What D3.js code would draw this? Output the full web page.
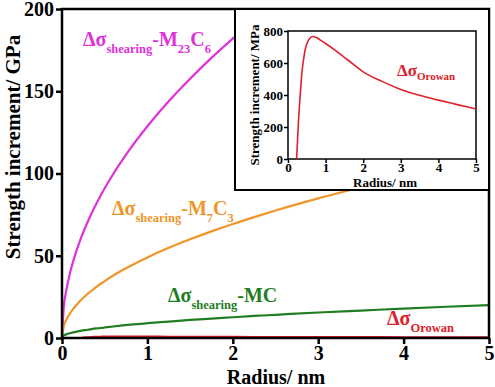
<!DOCTYPE html>
<html>
<head>
<meta charset="utf-8">
<script src="https://cdn.jsdelivr.net/npm/d3@7"></script>
<style>
  body { margin: 0; background: #fff; }
  svg { display: block; }
</style>
</head>
<body>
<svg></svg>
<script>
// radius (nm) shared by the shearing curves
let radius = [0, 0.02, 0.05, 0.1, 0.2, 0.3, 0.4, 0.5, 0.6, 0.8, 1.0, 1.25, 1.5, 1.75, 2.0, 2.25, 2.5, 3.0, 3.5, 4.0, 4.5, 5.0]
// GPa, null where the curve is out of view / behind inset
let shearM23C6 = [0, 18.2, 28.8, 40.7, 57.6, 70.5, 81.4, 91.0, 99.7, 115.1, 128.7, 143.9, 157.6, 170.3, 182.0, 193.1, 203.5, null, null, null, null, null]
let shearM7C3 = [0, 6.9, 11.0, 15.5, 21.9, 26.8, 31.0, 34.6, 38.0, 43.8, 49.0, 54.8, 60.0, 64.8, 69.3, 73.5, 77.5, 84.9, 91.7, null, null, null]
let shearMC = [0, 1.5, 2.2, 3.0, 4.2, 5.0, 5.8, 6.4, 7.0, 8.1, 9.0, 10.0, 11.0, 11.8, 12.6, 13.4, 14.1, 15.5, 16.7, 17.9, 19.0, 20.0]

// Orowan curve, MPa
let orowanR = [0.23, 0.25, 0.28, 0.31, 0.34, 0.37, 0.41, 0.45, 0.5, 0.58, 0.66, 0.75, 0.85, 1.0, 1.25, 1.5, 1.75, 2.0, 2.5, 3.0, 3.5, 4.0, 4.5, 5.0]
let orowanMPa = [0, 100, 242, 350, 449, 540, 615, 675, 719, 755, 766, 760, 745, 722, 680, 635, 590, 545, 485, 435, 398, 368, 340, 312]

let xTicks = [0, 1, 2, 3, 4, 5]
let yTicks = [0, 50, 100, 150, 200]
let insetYTicks = [0, 200, 400, 600, 800]

let width = 495
let height = 387
let serif = '"Liberation Serif", "Times New Roman", Times, "DejaVu Serif", serif'

let magenta = '#e030dc'
let orange = '#f0952a'
let green = '#1f7d22'
let red = '#e0202a'

let svg = d3.select('svg').attr('width', width).attr('height', height)

let xScale = d3.scaleLinear().domain([0, 5]).range([62, 489])
let yScale = d3.scaleLinear().domain([0, 200]).range([338, 9])

svg.append('clipPath').attr('id', 'clip')
  .append('rect').attr('x', 62).attr('y', 9).attr('width', 427).attr('height', 329)

let plot = svg.append('g').attr('clip-path', 'url(#clip)')

let drawLine = (g, xs, ys, sx, sy, color, w) => {
  let pts = xs.map((x, i) => [x, ys[i]])
  let line = d3.line()
    .defined(d => d[1] !== null)
    .x(d => sx(d[0]))
    .y(d => sy(d[1]))
    .curve(d3.curveMonotoneX)
  g.append('path')
    .datum(pts)
    .attr('d', line)
    .attr('fill', 'none')
    .attr('stroke', color)
    .attr('stroke-width', w)
}

drawLine(plot, radius, shearM23C6, xScale, yScale, magenta, 2.2)
drawLine(plot, radius, shearM7C3, xScale, yScale, orange, 2.2)
drawLine(plot, radius, shearMC, xScale, yScale, green, 2.2)

// main axes
let xAxis = d3.axisBottom(xScale).tickValues(xTicks).tickFormat(d3.format('d')).tickSize(6).tickSizeOuter(0).tickPadding(2)
let yAxis = d3.axisLeft(yScale).tickValues(yTicks).tickFormat(d3.format('d')).tickSize(6).tickSizeOuter(0).tickPadding(2)

let gx = svg.append('g').attr('transform', 'translate(0,338)').call(xAxis)
let gy = svg.append('g').attr('transform', 'translate(62,0)').call(yAxis)
for (let g of [gx, gy]) {
  g.attr('font-family', null).attr('font-size', null)
  g.select('.domain').remove()
  g.selectAll('line').attr('stroke', '#000').attr('stroke-width', 2.5)
  g.selectAll('text').attr('fill', '#000').style('font-size', '20px')
}

// frame
svg.append('rect').attr('x', 62).attr('y', 9).attr('width', 427).attr('height', 329)
  .attr('fill', 'none').attr('stroke', '#000').attr('stroke-width', 2.5)
// red line sits over the bottom axis
drawLine(plot, orowanR, orowanMPa.map(v => v / 1000), xScale, yScale, red, 2.5)

svg.append('text').attr('x', 276).attr('y', 384).attr('text-anchor', 'middle')
  .style('font-size', '20px').text('Radius/ nm')
svg.append('text').attr('transform', 'translate(20,147) rotate(-90)').attr('text-anchor', 'middle')
  .style('font-size', '21px').text('Strength increment/ GPa')

// curve labels
let label = (x, y, parts, color, big, small) => {
  let t = svg.append('text').attr('x', x).attr('y', y).attr('fill', color).style('font-size', big + 'px')
  let sub = false
  parts.forEach(p => {
    let isSub = p[1]
    let s = t.append('tspan').text(p[0]).style('font-size', (isSub ? small : big) + 'px')
    if (isSub && !sub) s.attr('dy', 7)
    if (!isSub && sub) s.attr('dy', -7)
    sub = isSub
  })
}

label(83, 46, [['Δσ', 0], ['shearing', 1], ['-M', 0], ['23', 1], ['C', 0], ['6', 1]], magenta, 20, 12.5)
label(112, 215, [['Δσ', 0], ['shearing', 1], ['-M', 0], ['7', 1], ['C', 0], ['3', 1]], orange, 20, 12.5)
label(168, 302, [['Δσ', 0], ['shearing', 1], ['-MC', 0]], green, 20, 12.5)
label(387, 325, [['Δσ', 0], ['Orowan', 1]], red, 20, 12.5)

// inset
let inset = svg.append('g')
inset.append('rect').attr('x', 235).attr('y', 9).attr('width', 254).attr('height', 181)
  .attr('fill', '#fff').attr('stroke', '#000').attr('stroke-width', 2)

let ixScale = d3.scaleLinear().domain([0, 5]).range([288, 476])
let iyScale = d3.scaleLinear().domain([0, 800]).range([159, 31])

let ixAxis = d3.axisBottom(ixScale).tickValues(xTicks).tickFormat(d3.format('d')).tickSize(4).tickSizeOuter(0).tickPadding(0)
let iyAxis = d3.axisLeft(iyScale).tickValues(insetYTicks).tickFormat(d3.format('d')).tickSize(4).tickSizeOuter(0).tickPadding(1)
let igx = inset.append('g').attr('transform', 'translate(0,159)').call(ixAxis)
let igy = inset.append('g').attr('transform', 'translate(288,0)').call(iyAxis)
for (let g of [igx, igy]) {
  g.attr('font-family', null).attr('font-size', null)
  g.select('.domain').remove()
  g.selectAll('line').attr('stroke', '#000').attr('stroke-width', 1.5)
  g.selectAll('text').attr('fill', '#000').style('font-size', '13px')
}
inset.append('rect').attr('x', 288).attr('y', 31).attr('width', 188).attr('height', 128)
  .attr('fill', 'none').attr('stroke', '#000').attr('stroke-width', 1.5)

drawLine(inset, orowanR, orowanMPa, ixScale, iyScale, red, 1.6)

inset.append('text').attr('x', 385).attr('y', 186.5).attr('text-anchor', 'middle')
  .style('font-size', '13px').text('Radius/ nm')
inset.append('text').attr('transform', 'translate(259,95) rotate(-90)').attr('text-anchor', 'middle')
  .style('font-size', '13px').text('Strength increment/ MPa')

let t = inset.append('text').attr('x', 397).attr('y', 76).attr('fill', red).style('font-size', '17px')
t.append('tspan').text('Δσ')
t.append('tspan').text('Orowan').attr('dy', 4).style('font-size', '11px')

svg.selectAll('text').style('font-family', serif).style('font-weight', 'bold')
</script>
</body>
</html>
